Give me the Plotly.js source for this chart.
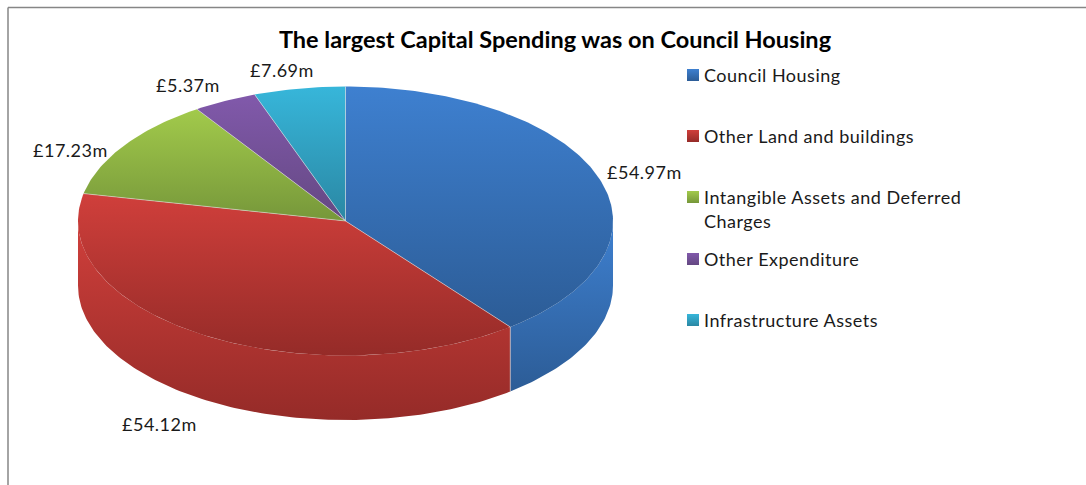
<!DOCTYPE html>
<html>
<head>
<meta charset="utf-8">
<script src="https://cdn.plot.ly/plotly-3.0.1.min.js"></script>
<style>html,body{margin:0;padding:0;background:#fff}#chart{width:1086px;height:485px}
.annotation-text{letter-spacing:.5px}</style>
</head>
<body>
<div id="chart"></div>
<script>
const chartTitle = "The largest Capital Spending was on Council Housing";
const categories = ["Council Housing", "Other Land and buildings", "Intangible Assets and Deferred Charges", "Other Expenditure", "Infrastructure Assets"];
const values = [54.97, 54.12, 17.23, 5.37, 7.69];
const legendLines = [["Council Housing"], ["Other Land and buildings"], ["Intangible Assets and Deferred", "Charges"], ["Other Expenditure"], ["Infrastructure Assets"]];
const lightColors = ["#3e80d0", "#d03f3b", "#a2ca4b", "#8159ab", "#37b6da"];
const darkColors = ["#2c5c96", "#952b28", "#76973a", "#644882", "#2a87a3"];

const W = 1086, H = 485;
const cx = 345.5, cy = 221, rx = 267.5, ry = 134.5, depthPx = 64.5;
const depth = depthPx / ry;
// Unit-disc coordinates: the axes squash the disc into the perspective ellipse.
const xRange = [-cx / rx, (W - cx) / rx];
const yRange = [-(H - cy) / ry, cy / ry];
const total = values.reduce((a, b) => a + b, 0);
const pxX = p => p / W, pxY = p => 1 - p / H;

function arc(a, b) {
  const pts = [], n = Math.max(2, Math.ceil(Math.abs(b - a) / 1));
  for (let i = 0; i <= n; i++) {
    const t = (a + (b - a) * i / n) * Math.PI / 180;
    pts.push([Math.sin(t), Math.cos(t)]);
  }
  return pts;
}
function gradient(i, ys) {
  return {type: "vertical", start: Math.min(...ys), stop: Math.max(...ys),
          colorscale: [[0, darkColors[i]], [1, lightColors[i]]]};
}
function polyTrace(i, pts, part) {
  const xs = pts.map(p => p[0]), ys = pts.map(p => p[1]);
  return {type: "scatter", mode: "lines", x: xs, y: ys, fill: "toself",
          fillgradient: gradient(i, ys), line: {width: 0},
          name: categories[i] + part, hoverinfo: "skip", showlegend: false};
}

const traces = [], sides = [], tops = [], seams = {x: [], y: []};
let acc = 0;
values.forEach((v, i) => {
  const a = acc / total * 360, b = (acc + v) / total * 360;
  acc += v;
  const la = Math.max(a, 90), lb = Math.min(b, 270);
  if (lb > la) {
    const top = arc(la, lb);
    const bottom = top.map(p => [p[0], p[1] - depth]).reverse();
    sides.push(polyTrace(i, top.concat(bottom), " side"));
    if (a > 90 && a < 270) {
      const s = arc(a, a)[0];
      seams.x.push(s[0], s[0], null);
      seams.y.push(s[1], s[1] - depth, null);
    }
  }
  tops.push(polyTrace(i, [[0, 0]].concat(arc(a, b)), ""));
  const s = arc(a, a)[0];
  seams.x.push(0, s[0], null);
  seams.y.push(0, s[1], null);
});
traces.push(...sides, ...tops);
traces.push({type: "scatter", mode: "lines", x: seams.x, y: seams.y, name: "seams",
             line: {color: "rgba(225,225,225,0.55)", width: 1}, hoverinfo: "skip", showlegend: false});

// Legend swatches
const legendX = 693, legendRows = [75, 136, 197, 259, 320], legendText = 702.5, lineGap = 25;
traces.push({type: "scatter", mode: "markers", name: "legend swatches",
  x: legendRows.map(() => (legendX - cx) / rx),
  y: legendRows.map(r => (cy - r) / ry),
  marker: {symbol: "square", size: 12, color: lightColors,
           gradient: {type: "vertical", color: darkColors}, line: {width: 0}},
  hoverinfo: "skip", showlegend: false});

const baseFont = {family: "Lato, 'Open Sans', sans-serif", color: "#1a1a1a", size: 18};
const annotations = [];
legendLines.forEach((lines, i) => lines.forEach((t, k) => annotations.push({
  text: t, xref: "paper", yref: "paper", x: pxX(legendText), y: pxY(legendRows[i] - 0.5 + k * lineGap),
  xanchor: "left", yanchor: "middle", showarrow: false, font: baseFont, borderpad: 0
})));
const labelPos = [[644, 172], [159, 424], [70, 150], [188, 85], [282, 70]];
values.forEach((v, i) => annotations.push({
  text: "£" + v.toFixed(2) + "m", xref: "paper", yref: "paper",
  x: pxX(labelPos[i][0]), y: pxY(labelPos[i][1]), xanchor: "center", yanchor: "middle",
  showarrow: false, font: baseFont, borderpad: 0
}));

const frame = {type: "line", xref: "paper", yref: "paper", line: {color: "#868686", width: 1.5}};
const layout = {
  width: W, height: H, margin: {l: 0, r: 0, t: 0, b: 0},
  paper_bgcolor: "#fff", plot_bgcolor: "#fff", showlegend: false,
  title: {text: "<b>" + chartTitle + "</b>", x: 555 / W, xanchor: "center", y: 1 - 40 / H, yanchor: "middle",
          font: {family: "Lato, 'Open Sans', sans-serif", size: 23.5, color: "#000"}},
  xaxis: {range: xRange, visible: false, fixedrange: true},
  yaxis: {range: yRange, visible: false, fixedrange: true},
  shapes: [
    Object.assign({}, frame, {x0: pxX(8), x1: pxX(8), y0: 0, y1: pxY(7.5)}),
    Object.assign({}, frame, {x0: pxX(8), x1: 1, y0: pxY(7.5), y1: pxY(7.5)})
  ],
  annotations
};
Plotly.newPlot("chart", traces, layout, {displayModeBar: false, responsive: false});
</script>
</body>
</html>
